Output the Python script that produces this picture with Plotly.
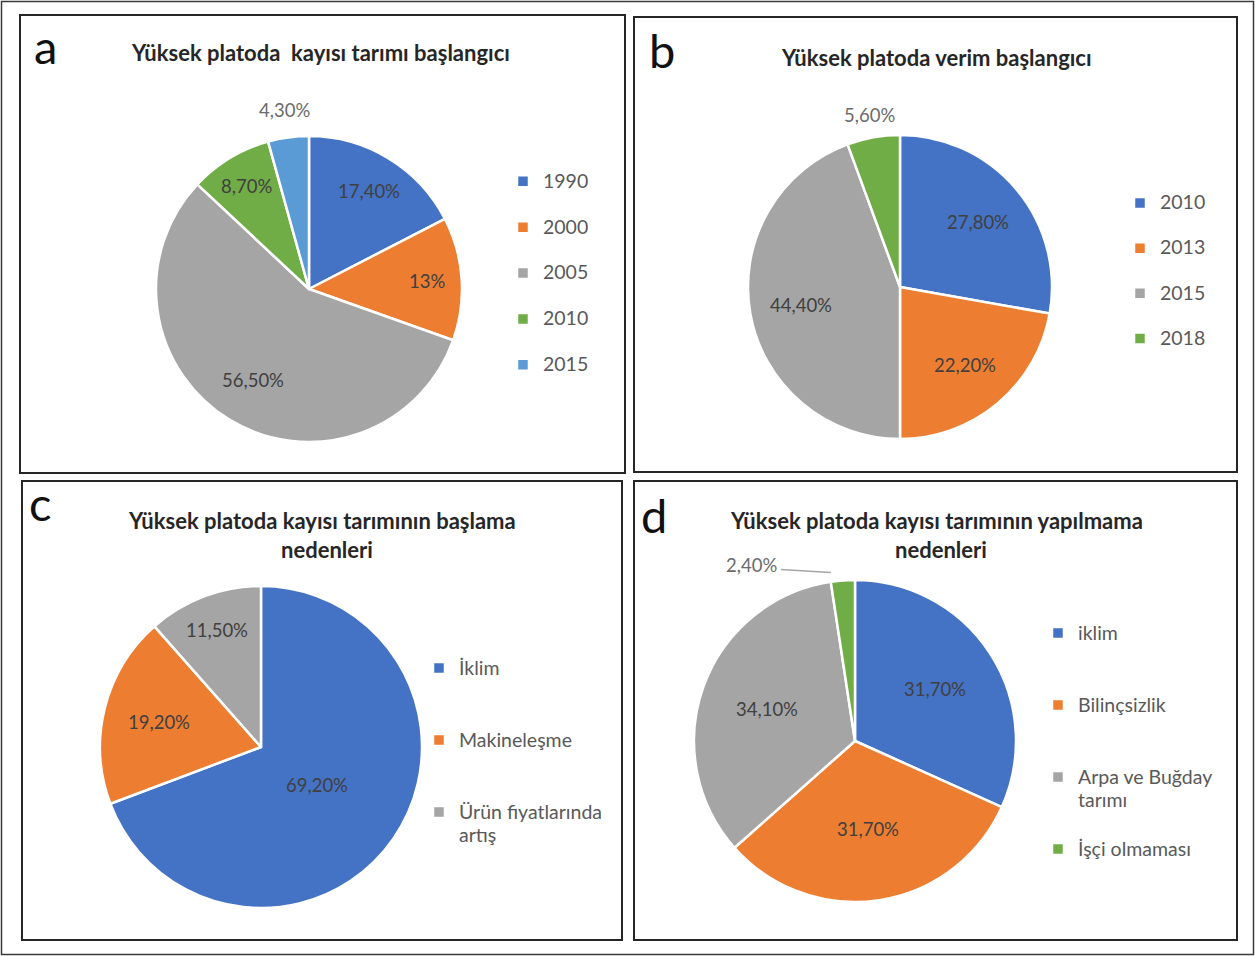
import math
import plotly.graph_objects as go

W, H = 1255, 956
FONT = "Lato"

# ---------------- data ----------------
a_title = ["Yüksek platoda  kayısı tarımı başlangıcı"]
a_labels = ["1990", "2000", "2005", "2010", "2015"]
a_values = [17.4, 13.0, 56.5, 8.7, 4.3]
a_text = ["17,40%", "13%", "56,50%", "8,70%", "4,30%"]

b_title = ["Yüksek platoda verim başlangıcı"]
b_labels = ["2010", "2013", "2015", "2018"]
b_values = [27.8, 22.2, 44.4, 5.6]
b_text = ["27,80%", "22,20%", "44,40%", "5,60%"]

c_title = ["Yüksek platoda kayısı tarımının başlama", "nedenleri"]
c_labels = ["İklim", "Makineleşme", "Ürün fiyatlarında<br>artış"]
c_values = [69.2, 19.2, 11.5]
c_text = ["69,20%", "19,20%", "11,50%"]

d_title = ["Yüksek platoda kayısı tarımının yapılmama", "nedenleri"]
d_labels = ["iklim", "Bilinçsizlik", "Arpa ve Buğday<br>tarımı", "İşçi olmaması"]
d_values = [31.7, 31.7, 34.1, 2.4]
d_text = ["31,70%", "31,70%", "34,10%", "2,40%"]

BLUE, ORANGE, GRAY, GREEN, LBLUE = "#4472C4", "#ED7D31", "#A5A5A5", "#70AD47", "#5B9BD5"

# ---------------- layout / style per panel ----------------
panels = [
    dict(letter="a", title=a_title, labels=a_labels, values=a_values, text=a_text,
         colors=[BLUE, ORANGE, GRAY, GREEN, LBLUE],
         box=(20, 15, 625, 473), cx=309, cy=289, r=153,
         lab_f=[0.75, 0.77, 0.70, 0.79, 1.18], outside=[False, False, False, False, True],
         letter_xy=(46, 46), title_xy=(320, 53),
         leg_x=503, leg_y=164, leg_lines=2, leg_fs=16.5),
    dict(letter="b", title=b_title, labels=b_labels, values=b_values, text=b_text,
         colors=[BLUE, ORANGE, GRAY, GREEN],
         box=(634, 17, 1237, 472), cx=900, cy=287, r=152,
         lab_f=[0.67, 0.67, 0.66, 1.15], outside=[False, False, False, True],
         letter_xy=(662, 50), title_xy=(936, 57),
         leg_x=1120, leg_y=186, leg_lines=2, leg_fs=16.2),
    dict(letter="c", title=c_title, labels=c_labels, values=c_values, text=c_text,
         colors=[BLUE, ORANGE, GRAY],
         box=(22, 481, 622, 940), cx=261, cy=747, r=161,
         lab_f=[0.42, 0.65, 0.78], outside=[False, False, False],
         letter_xy=(40, 503), title_xy=(322, 520),
         leg_x=419, leg_y=650, leg_lines=3, leg_fs=17.7),
    dict(letter="d", title=d_title, labels=d_labels, values=d_values, text=d_text,
         colors=[BLUE, ORANGE, GRAY, GREEN],
         box=(634, 481, 1237, 940), cx=855, cy=741, r=161,
         lab_f=[0.59, 0.55, 0.58, 1.0], outside=[False, False, False, "leader"],
         letter_xy=(654, 515), title_xy=(936, 520),
         leg_x=1038, leg_y=615, leg_lines=3, leg_fs=17.7),
]


def px(x, y):
    return x / W, 1 - y / H


fig = go.Figure()
annotations = []
shapes = []

# outer frame
shapes.append(dict(type="rect", xref="paper", yref="paper",
                   x0=1.5 / W, x1=1 - 1.5 / W, y0=1.5 / H, y1=1 - 1.5 / H,
                   line=dict(color="#3a3a3a", width=1.5)))

for k, p in enumerate(panels):
    lname = "legend" if k == 0 else f"legend{k + 1}"
    cx, cy, r = p["cx"], p["cy"], p["r"]
    x0, y1 = px(cx - r, cy - r)
    x1, y0 = px(cx + r, cy + r)

    # legend labels padded to equal line counts (Excel spreads entries evenly);
    # a per-panel zero-width suffix keeps equal labels of different pies apart
    leg_labels = []
    for lab in p["labels"]:
        n = lab.count("<br>") + 1
        pad = "<br>\u00a0" * max(0, p["leg_lines"] - n)
        leg_labels.append(f'<span style="font-size:19.5px">{lab}</span>{pad}' + "\u200b" * (k + 1))

    fig.add_trace(go.Pie(
        labels=leg_labels, values=p["values"], sort=False, direction="clockwise",
        rotation=0, textinfo="none", hoverinfo="percent",
        marker=dict(colors=p["colors"], line=dict(color="white", width=2.5)),
        domain=dict(x=[x0, x1], y=[y0, y1]), legend=lname, showlegend=True,
    ))

    lx, ly = px(p["leg_x"], p["leg_y"])
    fig.update_layout(**{lname: dict(
        x=lx, y=ly, xanchor="left", yanchor="top", valign="top",
        font=dict(family=FONT, size=p["leg_fs"], color="#595959"),
        bgcolor="rgba(0,0,0,0)", itemclick=False, itemdoubleclick=False,
    )})

    # data labels
    total = sum(p["values"])
    cum = 0.0
    for v, t, f, out in zip(p["values"], p["text"], p["lab_f"], p["outside"]):
        mid = (cum + v / 2) / total
        cum += v
        th = 2 * math.pi * mid
        if out == "leader":
            ex, ey = cx + r * math.sin(th), cy - r * math.cos(th)
            lx0, ly0 = px(ex - 12, ey - 8)
            lx1, ly1 = px(ex - 62, ey - 11)
            shapes.append(dict(type="line", xref="paper", yref="paper",
                               x0=lx0, y0=ly0, x1=lx1, y1=ly1,
                               line=dict(color="#a6a6a6", width=1.5)))
            axx, ayy = px(ex - 64, ey - 15)
            annotations.append(dict(x=axx, y=ayy, xref="paper", yref="paper",
                                    text=t, showarrow=False, xanchor="right", yanchor="middle",
                                    font=dict(family=FONT, size=18.5, color="#6b6b6b")))
            continue
        tx, ty = cx + f * r * math.sin(th), cy - f * r * math.cos(th)
        axx, ayy = px(tx, ty)
        annotations.append(dict(x=axx, y=ayy, xref="paper", yref="paper",
                                text=t, showarrow=False, xanchor="center", yanchor="middle",
                                font=dict(family=FONT, size=18.5,
                                          color="#6b6b6b" if out else "#404040")))

    # panel frame
    bx0, by0, bx1, by1 = p["box"]
    fx0, fy1 = px(bx0, by0)
    fx1, fy0 = px(bx1, by1)
    shapes.append(dict(type="rect", xref="paper", yref="paper",
                       x0=fx0, x1=fx1, y0=fy0, y1=fy1,
                       line=dict(color="#262626", width=2)))

    # panel letter
    lxp, lyp = px(*p["letter_xy"])
    annotations.append(dict(x=lxp, y=lyp, xref="paper", yref="paper", text=p["letter"],
                            showarrow=False, xanchor="center", yanchor="middle",
                            font=dict(family=FONT, size=47, color="#111111")))

    # title lines
    tx0, ty0 = p["title_xy"]
    for i, line in enumerate(p["title"]):
        xx, yy = px(tx0 + (5 if i else 0), ty0 + 29.5 * i)
        annotations.append(dict(x=xx, y=yy, xref="paper", yref="paper",
                                text=f"<b>{line}</b>", showarrow=False,
                                xanchor="center", yanchor="middle",
                                font=dict(family=FONT, size=22, color="#262626")))

fig.update_layout(
    width=W, height=H, margin=dict(l=0, r=0, t=0, b=0),
    paper_bgcolor="white", plot_bgcolor="white",
    annotations=annotations, shapes=shapes,
    font=dict(family=FONT),
)

fig.write_html("out.html", config={"displayModeBar": False},
               post_script="document.body.style.margin='0px';")
